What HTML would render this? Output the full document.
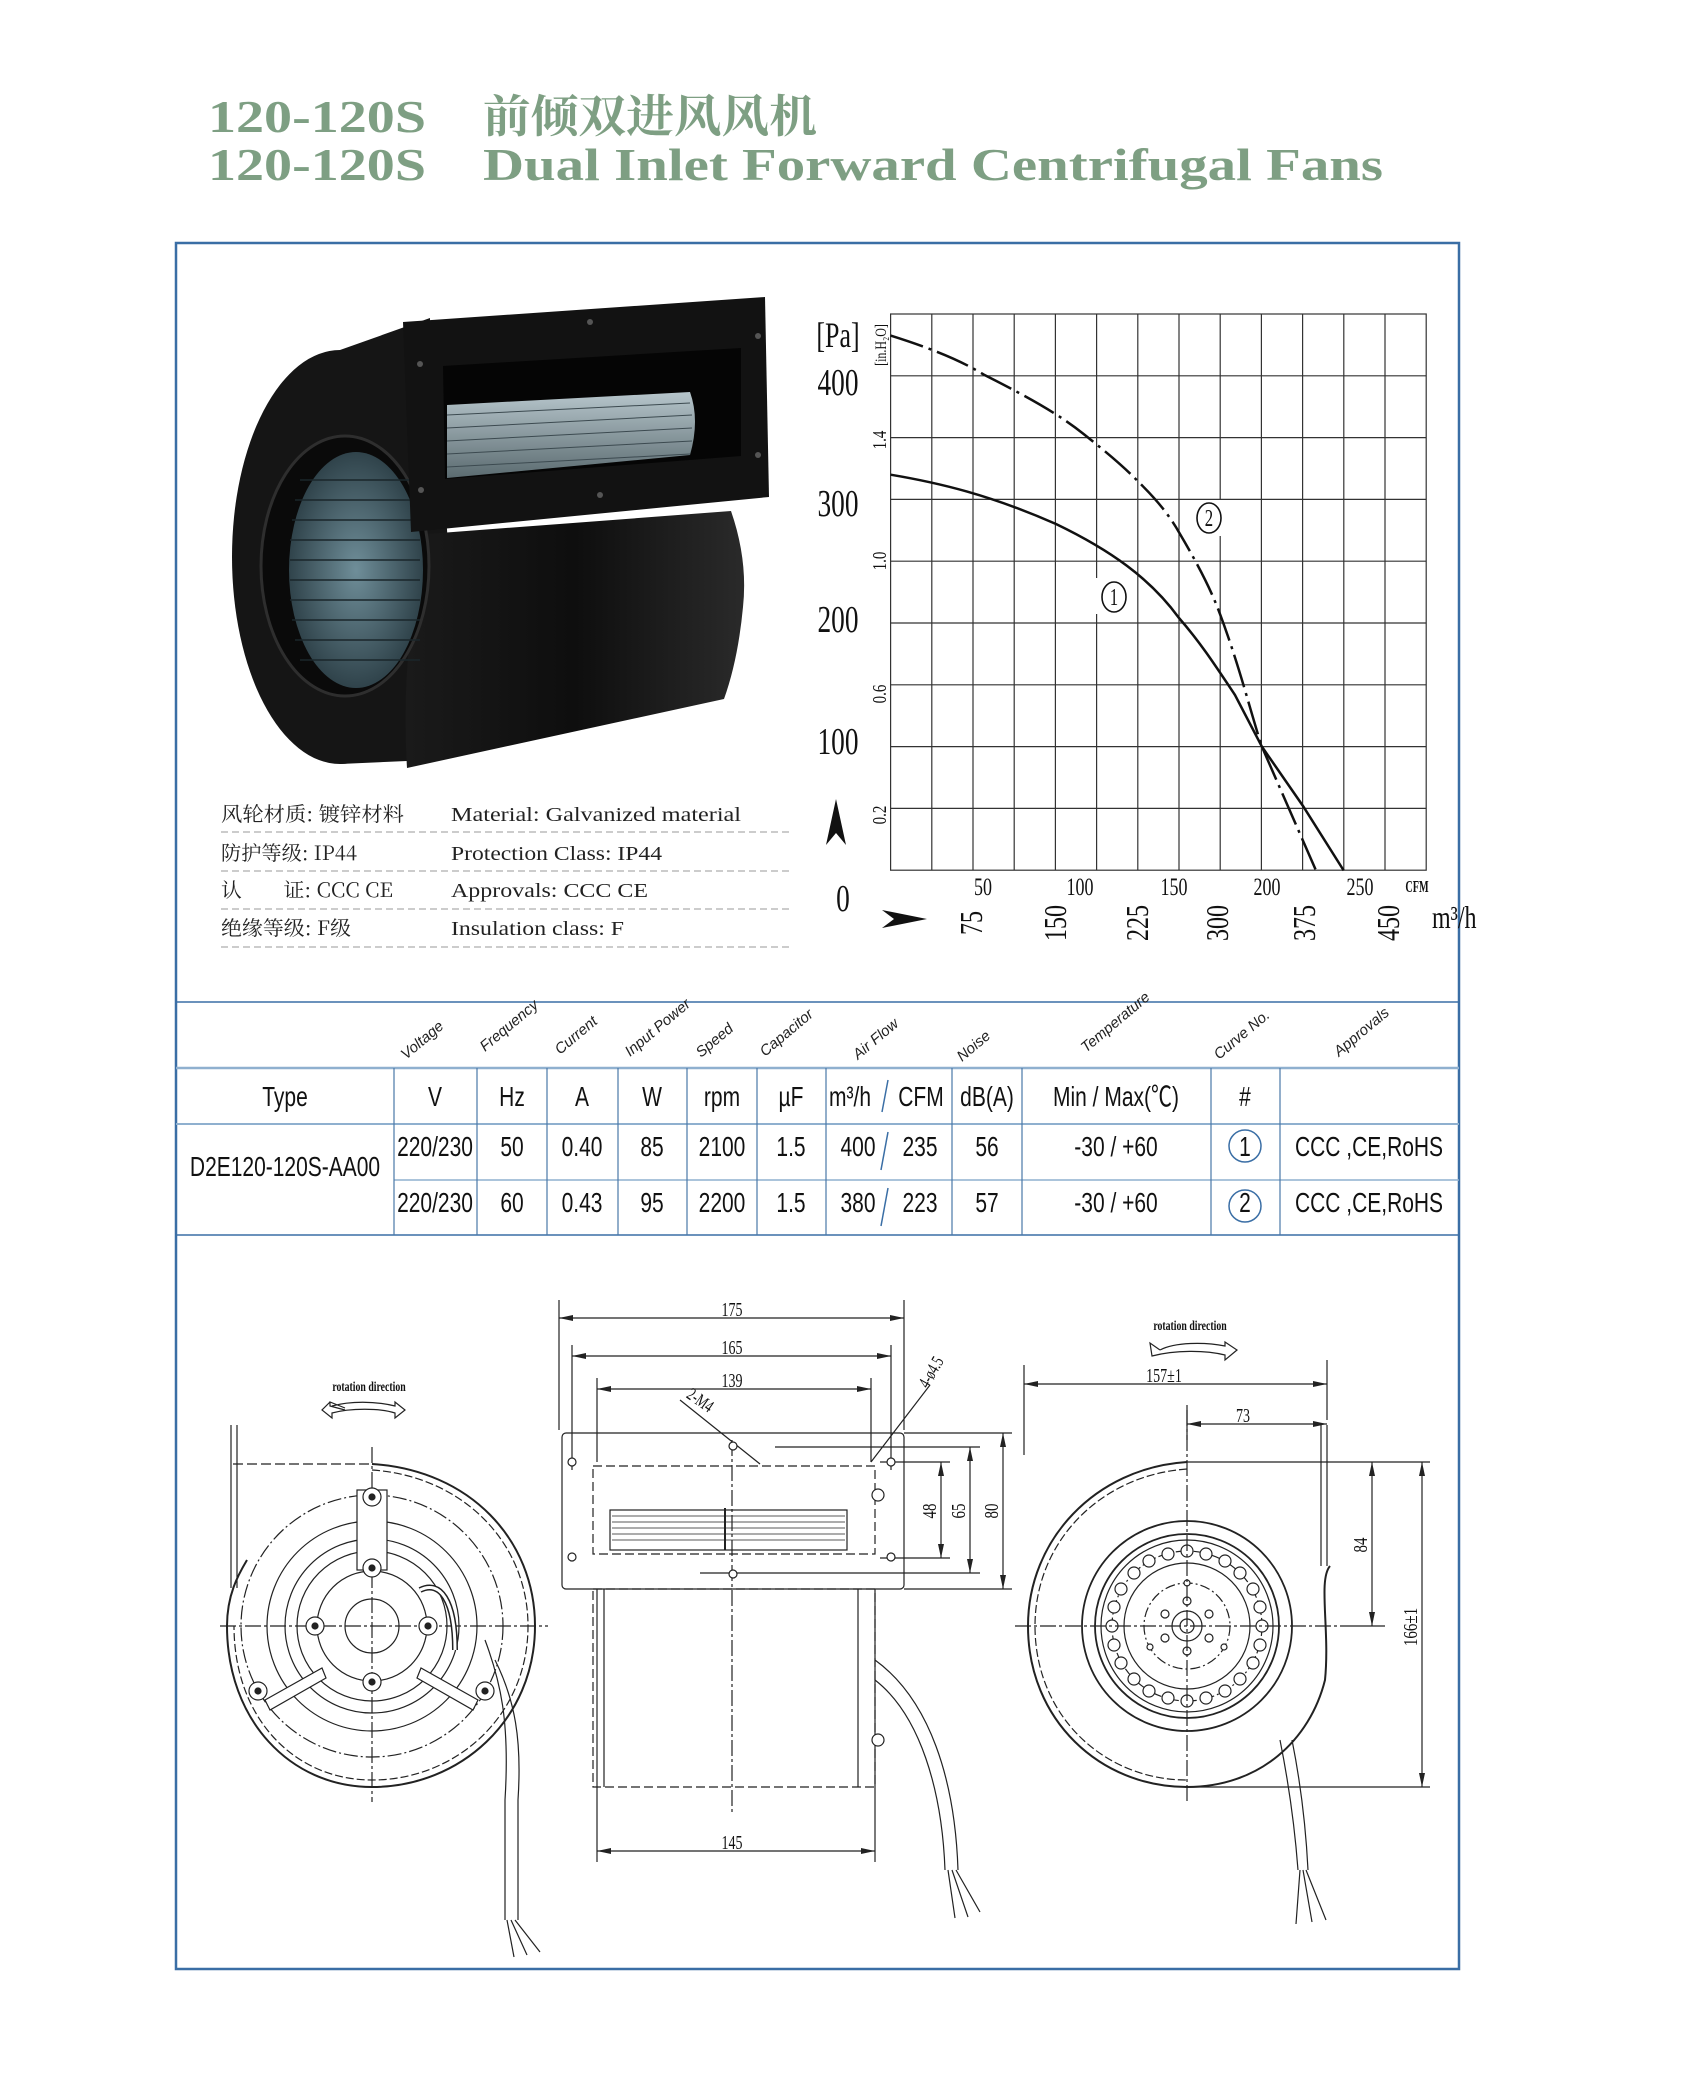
<!DOCTYPE html>
<html><head><meta charset="utf-8"><style>
html,body{margin:0;padding:0;background:#fff;}
svg{display:block;}
.t{font-family:"Liberation Serif","Noto Serif CJK SC",serif;}
.s{font-family:"Liberation Sans","Noto Sans CJK SC",sans-serif;}
.cj{font-family:"Noto Serif CJK SC","Noto Sans CJK SC",serif;}
</style></head><body>
<svg width="1693" height="2099" viewBox="0 0 1693 2099" xmlns="http://www.w3.org/2000/svg">
<defs>
<radialGradient id="blade" cx="50%" cy="50%" r="60%"><stop offset="0" stop-color="#6f8e99"/><stop offset="1" stop-color="#23343b"/></radialGradient>
<linearGradient id="body" x1="0" y1="0" x2="1" y2="0"><stop offset="0" stop-color="#1a1a1a"/><stop offset=".5" stop-color="#0e0e0e"/><stop offset="1" stop-color="#2a2a2a"/></linearGradient>
<linearGradient id="fan" x1="0" y1="0" x2="0" y2="1"><stop offset="0" stop-color="#b7c6cc"/><stop offset="1" stop-color="#5b6b70"/></linearGradient>
</defs>
<!-- Title -->
<g class="t" font-weight="bold" fill="#7e9f83" font-size="46">
<text x="208" y="132" textLength="218" lengthAdjust="spacingAndGlyphs">120-120S</text>
<text x="483" y="132" class="cj" font-size="45" textLength="334" lengthAdjust="spacingAndGlyphs">前倾双进风风机</text>
<text x="208" y="180" textLength="218" lengthAdjust="spacingAndGlyphs">120-120S</text>
<text x="483" y="180" textLength="900" lengthAdjust="spacingAndGlyphs">Dual Inlet Forward Centrifugal Fans</text>
</g>
<!-- Frame -->
<rect x="176" y="243" width="1283" height="1726" fill="none" stroke="#3a6ea5" stroke-width="2.5"/>
<line x1="176" y1="1002" x2="1459" y2="1002" stroke="#3a6ea5" stroke-width="1.5"/>
<line x1="176" y1="1068" x2="1459" y2="1068" stroke="#8fb0cf" stroke-width="2.5"/>
<line x1="176" y1="1124" x2="1459" y2="1124" stroke="#8fb0cf" stroke-width="2"/>
<line x1="394" y1="1180" x2="1459" y2="1180" stroke="#8fb0cf" stroke-width="1.5"/>
<line x1="176" y1="1235" x2="1459" y2="1235" stroke="#3a6ea5" stroke-width="1.5"/>
<g stroke="#4a78a8" stroke-width="1.2">
<line x1="394" y1="1068" x2="394" y2="1235"/><line x1="477" y1="1068" x2="477" y2="1235"/>
<line x1="547" y1="1068" x2="547" y2="1235"/><line x1="618" y1="1068" x2="618" y2="1235"/>
<line x1="687" y1="1068" x2="687" y2="1235"/><line x1="757" y1="1068" x2="757" y2="1235"/>
<line x1="826" y1="1068" x2="826" y2="1235"/><line x1="952" y1="1068" x2="952" y2="1235"/>
<line x1="1022" y1="1068" x2="1022" y2="1235"/><line x1="1211" y1="1068" x2="1211" y2="1235"/>
<line x1="1280" y1="1068" x2="1280" y2="1235"/>
</g>
<!-- header rotated labels -->
<g class="s" font-size="15" font-style="italic" fill="#222">
<text transform="translate(406,1060) rotate(-40)">Voltage</text>
<text transform="translate(485,1052) rotate(-40)">Frequency</text>
<text transform="translate(560,1055) rotate(-40)">Current</text>
<text transform="translate(630,1057) rotate(-40)">Input Power</text>
<text transform="translate(701,1058) rotate(-40)">Speed</text>
<text transform="translate(765,1057) rotate(-40)">Capacitor</text>
<text transform="translate(858,1060) rotate(-40)">Air Flow</text>
<text transform="translate(962,1062) rotate(-40)">Noise</text>
<text transform="translate(1086,1053) rotate(-40)">Temperature</text>
<text transform="translate(1219,1060) rotate(-40)">Curve No.</text>
<text transform="translate(1339,1057) rotate(-40)">Approvals</text>
</g>
<g class="s" font-size="28" fill="#111" text-anchor="middle">
<text transform="translate(285,1106) scale(.75,1)">Type</text>
<text transform="translate(435,1106) scale(.75,1)">V</text>
<text transform="translate(512,1106) scale(.75,1)">Hz</text>
<text transform="translate(582,1106) scale(.75,1)">A</text>
<text transform="translate(652,1106) scale(.75,1)">W</text>
<text transform="translate(722,1106) scale(.75,1)">rpm</text>
<text transform="translate(791,1106) scale(.75,1)">µF</text>
<text transform="translate(850,1106) scale(.75,1)">m³/h</text>
<text transform="translate(921,1106) scale(.75,1)">CFM</text>
<text transform="translate(987,1106) scale(.75,1)">dB(A)</text>
<text transform="translate(1116,1106) scale(.75,1)">Min / Max(℃)</text>
<text transform="translate(1245,1106) scale(.75,1)">#</text>
<text transform="translate(285,1176) scale(.75,1)">D2E120-120S-AA00</text>
<text transform="translate(435,1156) scale(.75,1)">220/230</text>
<text transform="translate(512,1156) scale(.75,1)">50</text>
<text transform="translate(582,1156) scale(.75,1)">0.40</text>
<text transform="translate(652,1156) scale(.75,1)">85</text>
<text transform="translate(722,1156) scale(.75,1)">2100</text>
<text transform="translate(791,1156) scale(.75,1)">1.5</text>
<text transform="translate(858,1156) scale(.75,1)">400</text>
<text transform="translate(920,1156) scale(.75,1)">235</text>
<text transform="translate(987,1156) scale(.75,1)">56</text>
<text transform="translate(1116,1156) scale(.75,1)">-30 / +60</text>
<text transform="translate(1245,1156) scale(.75,1)">1</text>
<text transform="translate(1369,1156) scale(.75,1)">CCC ,CE,RoHS</text>
<text transform="translate(435,1212) scale(.75,1)">220/230</text>
<text transform="translate(512,1212) scale(.75,1)">60</text>
<text transform="translate(582,1212) scale(.75,1)">0.43</text>
<text transform="translate(652,1212) scale(.75,1)">95</text>
<text transform="translate(722,1212) scale(.75,1)">2200</text>
<text transform="translate(791,1212) scale(.75,1)">1.5</text>
<text transform="translate(858,1212) scale(.75,1)">380</text>
<text transform="translate(920,1212) scale(.75,1)">223</text>
<text transform="translate(987,1212) scale(.75,1)">57</text>
<text transform="translate(1116,1212) scale(.75,1)">-30 / +60</text>
<text transform="translate(1245,1212) scale(.75,1)">2</text>
<text transform="translate(1369,1212) scale(.75,1)">CCC ,CE,RoHS</text>
</g>
<g stroke="#3a6ea5" stroke-width="1.5" fill="none">
<line x1="888" y1="1080" x2="882" y2="1112"/><line x1="888" y1="1132" x2="881" y2="1170"/><line x1="888" y1="1188" x2="881" y2="1226"/>
<ellipse cx="1245" cy="1146" rx="16" ry="16"/><ellipse cx="1245" cy="1206" rx="16" ry="16"/>
</g>
<!-- Photo -->
<g>
<ellipse cx="340" cy="557" rx="108" ry="207" fill="#151515"/>
<path d="M340 350 L430 318 L430 760 L340 764 Z" fill="#151515"/>
<path d="M427 534 L731 511 Q748 560 743 607 Q738 660 724 699 L407 768 Q400 650 427 534 Z" fill="url(#body)"/>
<ellipse cx="345" cy="566" rx="84" ry="130" fill="#0a0a0a" stroke="#2e2e2e" stroke-width="3"/>
<ellipse cx="356" cy="570" rx="67" ry="118" fill="url(#blade)"/>
<g stroke="#1a262b" stroke-width="1.5">
<line x1="300" y1="480" x2="420" y2="480"/><line x1="295" y1="500" x2="420" y2="500"/><line x1="292" y1="520" x2="420" y2="520"/><line x1="290" y1="540" x2="420" y2="540"/><line x1="290" y1="560" x2="420" y2="560"/><line x1="290" y1="580" x2="420" y2="580"/><line x1="290" y1="600" x2="420" y2="600"/><line x1="292" y1="620" x2="420" y2="620"/><line x1="295" y1="640" x2="420" y2="640"/><line x1="300" y1="660" x2="420" y2="660"/>
</g>
<path d="M403 322 L765 297 L769 497 L411 532 Z" fill="#121212"/>
<path d="M443 366 L741 348 L741 456 L445 479 Z" fill="#050505"/>
<path d="M447 405 L690 392 Q700 420 690 455 L447 478 Z" fill="url(#fan)"/>
<g stroke="#3c4a50" stroke-width="1"><line x1="447" y1="415" x2="690" y2="403"/><line x1="447" y1="428" x2="692" y2="415"/><line x1="447" y1="441" x2="692" y2="428"/><line x1="447" y1="454" x2="692" y2="441"/><line x1="447" y1="467" x2="690" y2="454"/></g>
<g fill="#555"><circle cx="420" cy="364" r="3"/><circle cx="421" cy="490" r="3"/><circle cx="590" cy="322" r="3"/><circle cx="758" cy="336" r="3"/><circle cx="758" cy="455" r="3"/><circle cx="600" cy="495" r="3"/></g>
</g>
<!-- spec text -->
<g font-size="20" fill="#222">
<text x="221" y="821" class="cj" textLength="183" lengthAdjust="spacingAndGlyphs">风轮材质: 镀锌材料</text>
<text x="221" y="860" class="cj" textLength="136" lengthAdjust="spacingAndGlyphs">防护等级: IP44</text>
<text x="221" y="897" class="cj" textLength="172" lengthAdjust="spacingAndGlyphs">认&#12288;&#12288;证: CCC CE</text>
<text x="221" y="935" class="cj" textLength="130" lengthAdjust="spacingAndGlyphs">绝缘等级: F级</text>
<text x="451" y="821" class="t" textLength="290" lengthAdjust="spacingAndGlyphs">Material: Galvanized material</text>
<text x="451" y="860" class="t" textLength="211" lengthAdjust="spacingAndGlyphs">Protection Class: IP44</text>
<text x="451" y="897" class="t" textLength="197" lengthAdjust="spacingAndGlyphs">Approvals: CCC  CE</text>
<text x="451" y="935" class="t" textLength="173" lengthAdjust="spacingAndGlyphs">Insulation class: F</text>
</g>
<g stroke="#999" stroke-width="1" stroke-dasharray="7 4">
<line x1="221" y1="832" x2="790" y2="832"/><line x1="221" y1="871" x2="790" y2="871"/><line x1="221" y1="909" x2="790" y2="909"/><line x1="221" y1="947" x2="790" y2="947"/>
</g>
<!-- Chart -->
<g stroke="#333" stroke-width="1.2" fill="none">
<rect x="890.6" y="314" width="535.6" height="556.2"/>
<line x1="931.8" y1="314" x2="931.8" y2="870.2"/><line x1="973" y1="314" x2="973" y2="870.2"/><line x1="1014.2" y1="314" x2="1014.2" y2="870.2"/><line x1="1055.4" y1="314" x2="1055.4" y2="870.2"/><line x1="1096.6" y1="314" x2="1096.6" y2="870.2"/><line x1="1137.8" y1="314" x2="1137.8" y2="870.2"/><line x1="1179" y1="314" x2="1179" y2="870.2"/><line x1="1220.2" y1="314" x2="1220.2" y2="870.2"/><line x1="1261.4" y1="314" x2="1261.4" y2="870.2"/><line x1="1302.6" y1="314" x2="1302.6" y2="870.2"/><line x1="1343.8" y1="314" x2="1343.8" y2="870.2"/><line x1="1385" y1="314" x2="1385" y2="870.2"/>
<line x1="890.6" y1="375.8" x2="1426.2" y2="375.8"/><line x1="890.6" y1="437.6" x2="1426.2" y2="437.6"/><line x1="890.6" y1="499.4" x2="1426.2" y2="499.4"/><line x1="890.6" y1="561.2" x2="1426.2" y2="561.2"/><line x1="890.6" y1="623" x2="1426.2" y2="623"/><line x1="890.6" y1="684.8" x2="1426.2" y2="684.8"/><line x1="890.6" y1="746.6" x2="1426.2" y2="746.6"/><line x1="890.6" y1="808.4" x2="1426.2" y2="808.4"/>
</g>
<path d="M890.6 474.7 C940 483 990 495 1056 524 C1110 550 1150 578 1179 618 C1200 642 1215 665 1235 695 L1261.8 746.5 L1303 806 L1343.7 870.5" fill="none" stroke="#111" stroke-width="2.5"/>
<path d="M890.6 335.6 C930 348 960 360 983.8 374.6 C1030 398 1060 415 1083.6 434 C1110 455 1125 468 1138.2 481.6 C1155 498 1168 513 1179.4 533 C1200 568 1212 592 1220.6 615.7 C1240 668 1250 710 1261.8 746.5 L1316 870.5" fill="none" stroke="#111" stroke-width="2.5" stroke-dasharray="34 6 3 6"/>
<rect x="1095" y="578" width="38" height="36" fill="#fff"/><rect x="1190" y="500" width="38" height="36" fill="#fff"/>
<g fill="none" stroke="#111" stroke-width="1.6"><ellipse cx="1114" cy="597" rx="12" ry="15"/><ellipse cx="1209" cy="518" rx="12" ry="15"/></g>
<g class="t" fill="#111" text-anchor="middle">
<text transform="translate(1114,605) scale(.7,1)" font-size="24">1</text>
<text transform="translate(1209,526) scale(.7,1)" font-size="24">2</text>
<text transform="translate(838,347) scale(.72,1)" font-size="36">[Pa]</text>
<text transform="translate(838,395) scale(.72,1)" font-size="38">400</text>
<text transform="translate(838,516) scale(.72,1)" font-size="38">300</text>
<text transform="translate(838,632) scale(.72,1)" font-size="38">200</text>
<text transform="translate(838,754) scale(.72,1)" font-size="38">100</text>
<text transform="translate(843,911) scale(.72,1)" font-size="38">0</text>
<text transform="translate(983,895) scale(.72,1)" font-size="25">50</text>
<text transform="translate(1080,895) scale(.72,1)" font-size="25">100</text>
<text transform="translate(1174,895) scale(.72,1)" font-size="25">150</text>
<text transform="translate(1267,895) scale(.72,1)" font-size="25">200</text>
<text transform="translate(1360,895) scale(.72,1)" font-size="25">250</text>
<text transform="translate(1417,892) scale(.6,1)" font-size="17" font-weight="bold">CFM</text>
</g>
<g class="t" fill="#111" font-size="20" text-anchor="middle">
<text transform="translate(886,345) rotate(-90) scale(.75,1)" font-size="16">[in.H₂O]</text>
<text transform="translate(886,440) rotate(-90) scale(.75,1)">1.4</text>
<text transform="translate(886,561) rotate(-90) scale(.75,1)">1.0</text>
<text transform="translate(886,694) rotate(-90) scale(.75,1)">0.6</text>
<text transform="translate(886,815) rotate(-90) scale(.75,1)">0.2</text>
</g>
<g class="t" fill="#111" font-size="32" text-anchor="middle">
<text transform="translate(982,923) rotate(-90) scale(.75,1)">75</text>
<text transform="translate(1066,923) rotate(-90) scale(.75,1)">150</text>
<text transform="translate(1148,923) rotate(-90) scale(.75,1)">225</text>
<text transform="translate(1228,923) rotate(-90) scale(.75,1)">300</text>
<text transform="translate(1315,923) rotate(-90) scale(.75,1)">375</text>
<text transform="translate(1399,923) rotate(-90) scale(.75,1)">450</text>
<text transform="translate(1432,928) scale(.75,1)" text-anchor="start">m³/h</text>
</g>
<path d="M836 799 L846 845 L836 833 L826 845 Z" fill="#111"/>
<path d="M927 919 L882 910 L894 919 L882 928 Z" fill="#111"/>
<!-- Drawings -->
<g fill="none" stroke="#222" stroke-width="1.2">
<!-- left view -->
<line x1="231" y1="1425" x2="231" y2="1588"/><line x1="237" y1="1425" x2="237" y2="1588"/>
<line x1="233" y1="1464" x2="372" y2="1464" stroke-dasharray="10 4"/>
<path d="M372 1464 C470 1470 535 1540 535 1626 C535 1720 460 1787 372 1787 C290 1787 227 1720 227 1626 C227 1595 238 1575 247 1560" stroke-width="2"/>
<path d="M372 1470 C462 1476 528 1542 528 1626 C528 1716 456 1780 372 1780 C294 1780 234 1718 234 1626" stroke-dasharray="8 3"/>
<circle cx="372" cy="1626" r="131" stroke-dasharray="14 3 2 3"/>
<circle cx="372" cy="1626" r="105"/><circle cx="372" cy="1626" r="87"/><circle cx="372" cy="1626" r="75"/><circle cx="372" cy="1626" r="55"/><circle cx="372" cy="1626" r="27"/>
<line x1="220" y1="1626" x2="548" y2="1626" stroke-dasharray="16 3 3 3"/><line x1="372" y1="1447" x2="372" y2="1802" stroke-dasharray="16 3 3 3"/>
<rect x="357" y="1490" width="30" height="80" fill="#fff"/>
<path d="M265 1700 L322 1668 L326 1678 L270 1710 Z" fill="#fff"/><path d="M478 1700 L421 1668 L417 1678 L473 1710 Z" fill="#fff"/>
<g fill="#fff"><circle cx="372" cy="1497" r="9"/><circle cx="372" cy="1568" r="9"/><circle cx="315" cy="1626" r="9"/><circle cx="428" cy="1626" r="9"/><circle cx="372" cy="1682" r="9"/><circle cx="258" cy="1691" r="9"/><circle cx="485" cy="1691" r="9"/></g>
<g fill="#222"><circle cx="372" cy="1497" r="3"/><circle cx="372" cy="1568" r="3"/><circle cx="315" cy="1626" r="3"/><circle cx="428" cy="1626" r="3"/><circle cx="372" cy="1682" r="3"/><circle cx="258" cy="1691" r="3"/><circle cx="485" cy="1691" r="3"/></g>
<path d="M420 1590 C440 1580 455 1600 455 1650" stroke-width="6" stroke="#222"/><path d="M420 1590 C440 1580 455 1600 455 1650" stroke-width="3" stroke="#fff"/>
<path d="M485 1640 C500 1680 510 1720 505 1800 L505 1920 M495 1660 C515 1700 522 1740 518 1800 L518 1920"/>
<path d="M507 1920 L514 1957 M511 1920 L527 1955 M515 1920 L540 1952"/>
<!-- middle view -->
<rect x="562" y="1433" width="342" height="156" rx="4"/>
<rect x="593" y="1466" width="282" height="88" stroke-dasharray="9 4"/>
<rect x="593" y="1589" width="282" height="198" stroke-dasharray="9 4"/>
<line x1="604" y1="1589" x2="604" y2="1787"/><line x1="858" y1="1589" x2="858" y2="1787"/>
<line x1="732" y1="1440" x2="732" y2="1812" stroke-dasharray="16 3 3 3"/>
<rect x="610" y="1510" width="237" height="40"/>
<g stroke-width=".8"><line x1="612" y1="1516" x2="845" y2="1516"/><line x1="612" y1="1522" x2="845" y2="1522"/><line x1="612" y1="1528" x2="845" y2="1528"/><line x1="612" y1="1534" x2="845" y2="1534"/><line x1="612" y1="1540" x2="845" y2="1540"/></g>
<line x1="725" y1="1508" x2="725" y2="1550" stroke-width="2"/>
<line x1="559" y1="1300" x2="559" y2="1430"/><line x1="904" y1="1300" x2="904" y2="1430"/>
<line x1="572" y1="1345" x2="572" y2="1470"/><line x1="891" y1="1345" x2="891" y2="1470"/>
<line x1="597" y1="1378" x2="597" y2="1462"/><line x1="871" y1="1378" x2="871" y2="1462"/>
<line x1="597" y1="1589" x2="597" y2="1862"/><line x1="875" y1="1589" x2="875" y2="1862"/>
<line x1="559" y1="1318" x2="904" y2="1318"/><line x1="572" y1="1356" x2="891" y2="1356"/><line x1="597" y1="1389" x2="871" y2="1389"/><line x1="597" y1="1851" x2="875" y2="1851"/>
<line x1="904" y1="1433" x2="1012" y2="1433"/><line x1="775" y1="1447" x2="980" y2="1447"/><line x1="880" y1="1462" x2="950" y2="1462"/><line x1="880" y1="1558" x2="950" y2="1558"/><line x1="700" y1="1573" x2="980" y2="1573"/><line x1="904" y1="1589" x2="1012" y2="1589"/>
<line x1="1003" y1="1433" x2="1003" y2="1589"/><line x1="970" y1="1447" x2="970" y2="1573"/><line x1="941" y1="1462" x2="941" y2="1558"/>
<line x1="680" y1="1400" x2="760" y2="1464"/><line x1="871" y1="1462" x2="930" y2="1385"/>
<g fill="#fff"><circle cx="733" cy="1446" r="4"/><circle cx="572" cy="1462" r="4"/><circle cx="891" cy="1462" r="4"/><circle cx="572" cy="1557" r="4"/><circle cx="891" cy="1557" r="4"/><circle cx="733" cy="1574" r="4"/><circle cx="878" cy="1740" r="6"/><circle cx="878" cy="1495" r="6"/></g>
<path d="M875 1660 C930 1700 955 1780 958 1870 M875 1680 C920 1715 942 1790 945 1870"/>
<path d="M948 1870 L955 1918 M952 1870 L968 1917 M956 1870 L980 1912"/>
<!-- right view -->
<line x1="1327" y1="1425" x2="1327" y2="1566"/><line x1="1321" y1="1425" x2="1321" y2="1566"/>
<line x1="1187" y1="1462" x2="1330" y2="1462"/>
<path d="M1187 1462 C1095 1468 1028 1540 1028 1626 C1028 1720 1100 1787 1187 1787 C1260 1787 1310 1740 1325 1680 C1330 1630 1318 1580 1330 1566" stroke-width="2"/>
<path d="M1187 1469 C1100 1475 1035 1542 1035 1626 C1035 1716 1104 1780 1187 1780" stroke-dasharray="8 3"/>
<circle cx="1187" cy="1626" r="105" stroke-width="1.8"/><circle cx="1187" cy="1626" r="92" stroke-width="1.8"/><circle cx="1187" cy="1626" r="86"/>
<circle cx="1187" cy="1626" r="75" stroke-dasharray="10 3 2 3"/><circle cx="1187" cy="1626" r="63"/><circle cx="1187" cy="1626" r="43" stroke-dasharray="10 3 2 3"/>
<circle cx="1187" cy="1626" r="15"/><circle cx="1187" cy="1626" r="7"/>
<g fill="#fff"><circle cx="1187" cy="1551" r="6"/><circle cx="1206" cy="1554" r="6"/><circle cx="1225" cy="1561" r="6"/><circle cx="1240" cy="1573" r="6"/><circle cx="1253" cy="1589" r="6"/><circle cx="1260" cy="1607" r="6"/><circle cx="1262" cy="1626" r="6"/><circle cx="1260" cy="1645" r="6"/><circle cx="1253" cy="1663" r="6"/><circle cx="1240" cy="1679" r="6"/><circle cx="1225" cy="1691" r="6"/><circle cx="1206" cy="1698" r="6"/><circle cx="1187" cy="1701" r="6"/><circle cx="1168" cy="1698" r="6"/><circle cx="1149" cy="1691" r="6"/><circle cx="1134" cy="1679" r="6"/><circle cx="1121" cy="1663" r="6"/><circle cx="1114" cy="1645" r="6"/><circle cx="1112" cy="1626" r="6"/><circle cx="1114" cy="1607" r="6"/><circle cx="1121" cy="1589" r="6"/><circle cx="1134" cy="1573" r="6"/><circle cx="1149" cy="1561" r="6"/><circle cx="1168" cy="1554" r="6"/>
<circle cx="1187" cy="1601" r="4"/><circle cx="1187" cy="1651" r="4"/><circle cx="1165" cy="1614" r="4"/><circle cx="1209" cy="1614" r="4"/><circle cx="1165" cy="1638" r="4"/><circle cx="1209" cy="1638" r="4"/><circle cx="1187" cy="1583" r="3"/><circle cx="1150" cy="1647" r="3"/><circle cx="1224" cy="1647" r="3"/></g>
<line x1="1015" y1="1626" x2="1340" y2="1626" stroke-dasharray="16 3 3 3"/><line x1="1187" y1="1410" x2="1187" y2="1802" stroke-dasharray="16 3 3 3"/>
<line x1="1024" y1="1365" x2="1024" y2="1455"/><line x1="1327" y1="1360" x2="1327" y2="1420"/>
<line x1="1024" y1="1384" x2="1327" y2="1384"/><line x1="1187" y1="1424" x2="1327" y2="1424"/><line x1="1187" y1="1405" x2="1187" y2="1440"/>
<line x1="1330" y1="1462" x2="1430" y2="1462"/><line x1="1340" y1="1626" x2="1385" y2="1626"/><line x1="1187" y1="1787" x2="1430" y2="1787"/>
<line x1="1372" y1="1462" x2="1372" y2="1626"/><line x1="1422" y1="1462" x2="1422" y2="1787"/>
<path d="M1280 1740 C1290 1790 1295 1830 1298 1870 M1292 1740 C1302 1790 1306 1830 1308 1870"/>
<path d="M1300 1870 L1296 1924 M1303 1870 L1312 1922 M1306 1870 L1326 1920"/>
<!-- rotation arrows -->
<path d="M345 1408 L330 1402 L330 1406 L345 1410 M330 1402 L322 1410 L332 1418 L332 1413 C350 1408 380 1408 395 1413 L395 1418 L405 1410 L395 1402 L395 1406 C375 1401 350 1401 332 1406"/>
<path d="M1160 1350 L1150 1343 L1152 1356 C1175 1350 1205 1350 1225 1355 L1225 1360 L1237 1350 L1225 1342 L1225 1346 C1205 1342 1175 1342 1160 1350"/>
</g>
<!-- arrowheads -->
<g fill="#222">
<path d="M559 1318 l14 -3 v6 Z"/><path d="M904 1318 l-14 -3 v6 Z"/>
<path d="M572 1356 l14 -3 v6 Z"/><path d="M891 1356 l-14 -3 v6 Z"/>
<path d="M597 1389 l14 -3 v6 Z"/><path d="M871 1389 l-14 -3 v6 Z"/>
<path d="M597 1851 l14 -3 v6 Z"/><path d="M875 1851 l-14 -3 v6 Z"/>
<path d="M1024 1384 l14 -3 v6 Z"/><path d="M1327 1384 l-14 -3 v6 Z"/>
<path d="M1187 1424 l14 -3 v6 Z"/><path d="M1327 1424 l-14 -3 v6 Z"/>
<path d="M1003 1433 l-3 14 h6 Z"/><path d="M1003 1589 l-3 -14 h6 Z"/>
<path d="M970 1447 l-3 14 h6 Z"/><path d="M970 1573 l-3 -14 h6 Z"/>
<path d="M941 1462 l-3 14 h6 Z"/><path d="M941 1558 l-3 -14 h6 Z"/>
<path d="M1372 1462 l-3 14 h6 Z"/><path d="M1372 1626 l-3 -14 h6 Z"/>
<path d="M1422 1462 l-3 14 h6 Z"/><path d="M1422 1787 l-3 -14 h6 Z"/>
</g>
<g class="t" fill="#111" font-size="20" text-anchor="middle">
<text transform="translate(732,1316) scale(.7,1)">175</text>
<text transform="translate(732,1354) scale(.7,1)">165</text>
<text transform="translate(732,1387) scale(.7,1)">139</text>
<text transform="translate(732,1849) scale(.7,1)">145</text>
<text transform="translate(1164,1382) scale(.7,1)">157±1</text>
<text transform="translate(1243,1422) scale(.7,1)">73</text>
<text transform="translate(998,1511) rotate(-90) scale(.75,1)">80</text>
<text transform="translate(965,1511) rotate(-90) scale(.75,1)">65</text>
<text transform="translate(936,1511) rotate(-90) scale(.75,1)">48</text>
<text transform="translate(1367,1545) rotate(-90) scale(.75,1)">84</text>
<text transform="translate(1417,1627) rotate(-90) scale(.75,1)">166±1</text>
<text transform="translate(697,1405) rotate(35) scale(.7,1)" font-size="18">2-M4</text>
<text transform="translate(936,1375) rotate(-60) scale(.7,1)" font-size="18">4-ø4.5</text>
<text transform="translate(369,1391) scale(.7,1)" font-size="14" font-weight="bold">rotation direction</text>
<text transform="translate(1190,1330) scale(.7,1)" font-size="14" font-weight="bold">rotation direction</text>
</g>
</svg>
</body></html>
